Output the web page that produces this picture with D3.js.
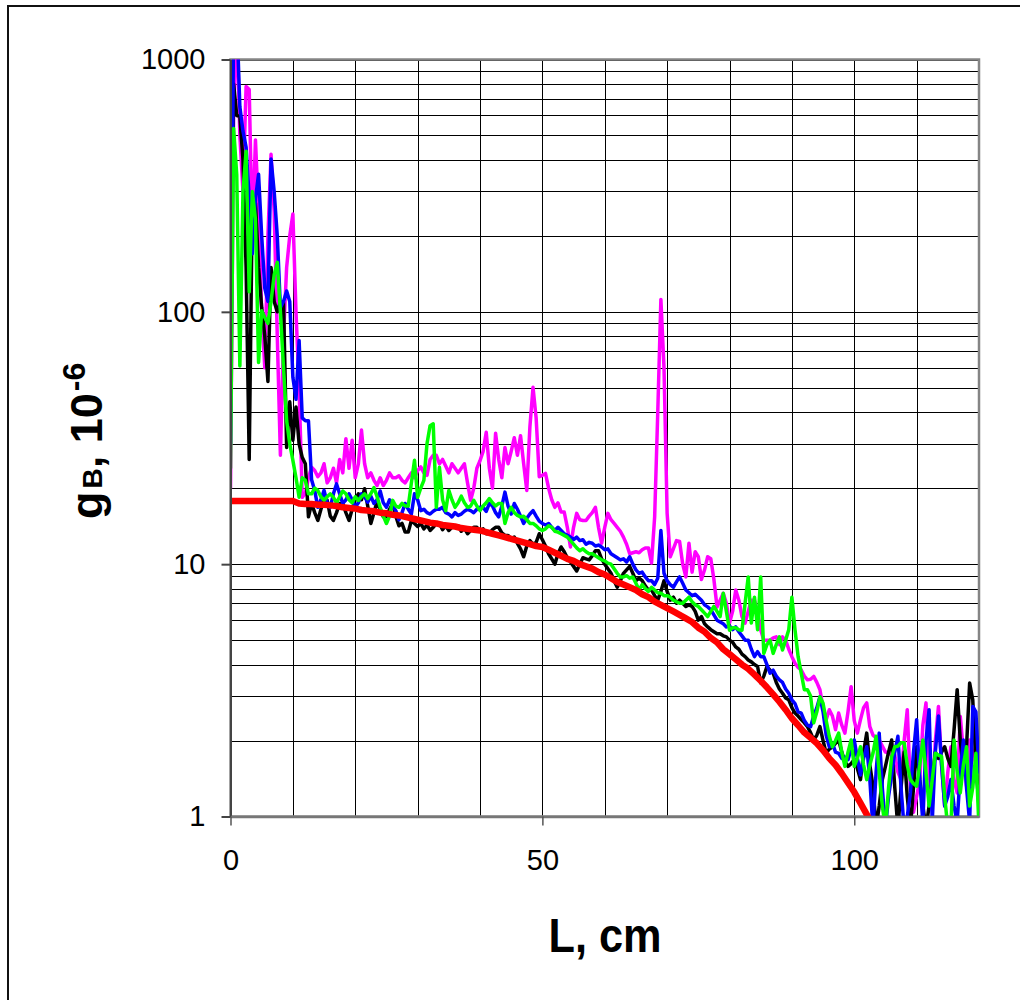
<!DOCTYPE html>
<html><head><meta charset="utf-8">
<script src="https://cdn.jsdelivr.net/npm/d3@7"></script>
<style>body{margin:0;background:#fff}svg{display:block}</style>
</head><body><svg id="c" width="1020" height="1000"></svg>
<script>
// x positions (cm), sampled every 0.5 cm
const L = d3.range(0, 241).map(i => i * 0.5);

const black = [
100,800,600,595,400,150,26,280,270,150,
104,80,53,150,110,100,109,109,29,44,
31,42,30,26.5,25,15.4,17.4,16,14.9,16.5,
17.9,17.9,15.5,14.9,16,17.4,17.4,16,14.9,16.5,
18,19,18,19.9,17,14.5,16,17.7,16.5,15.4,
15.4,16.5,17.4,15.5,14.2,14.5,13.4,13.4,14.9,14.5,
14.1,14.5,13.8,14.3,13.6,14.0,14.5,14.5,13.7,14.2,
13.6,14.0,14.2,14.2,13.5,13.9,13.2,13.6,14.0,14.0,
13.5,13.8,13.2,13.2,13.7,14.0,14.0,13.3,13.0,13.0,
12.6,12.8,12.1,11.5,10.7,11.8,12.4,12.0,12.2,13.2,
12.5,11.8,11.0,10.5,10.0,11.0,11.7,11.2,10.6,10.2,
9.8,9.4,10.0,10.6,10.5,10.4,10.8,11.3,11.3,10.5,
10.0,9.6,9.2,8.6,8.1,8.6,9.2,9.5,9.8,9.2,
8.6,8.8,8.6,8.2,7.9,7.9,7.5,7.2,7.8,8.6,
7.8,7.2,7.4,7.0,7.2,7.0,6.8,6.9,6.8,6.5,
6.0,6.2,5.8,5.64,5.5,5.4,5.3,5.3,5.2,5.15,
5.0,4.9,4.7,4.6,4.4,4.3,4.17,4.1,4.0,3.93,
3.38,3.6,3.93,3.8,3.7,3.4,3.2,3.08,2.95,2.9,
2.7,2.57,2.5,2.42,2.35,2.27,2.15,2.01,2.1,2.27,
2.0,1.78,1.85,1.89,1.95,2.01,1.8,1.65,1.58,1.62,
1.68,1.55,1.4,1.8,2.14,1.6,1.32,0.9,1.1,1.4,
1.58,1.8,2.01,1.3,0.9,1.3,1.8,1.2,0.9,1.3,
1.89,1.4,1.1,0.9,1.1,1.4,1.8,1.7,1.8,1.89,
1.7,1.58,2.2,3.18,2.0,1.53,1.89,3.38,2.9,1.6,
1.1];

const blue = [
30,1500,1500,650,520,450,283,170,280,351,
200,124,110,403,300,200,104,110,121,110,
55,45,77,38,37,37,21.6,19.6,16.8,18,
19.6,17.5,16.8,19,20.8,19,17.4,18,19,18,
16.8,17.5,19,18.5,17.6,18.6,17.4,18,19.5,17.5,
16.8,18,17,16.3,15,16,17.4,16.5,15.8,19,
18,16.3,16.5,16,15.8,16.2,16.5,16.5,16.8,16,
15.8,15.4,16,15.6,15.8,16.2,16.5,16.3,16,16.5,
16.8,16.8,16.2,17.4,17,16,15.4,17,19.3,17,
15.8,17.4,16.5,15.5,14.5,15.2,15.8,16.3,15.5,14.8,
14.5,14.3,14.5,14.0,13.6,14.0,13.6,13.2,13.0,12.8,
12.5,12.8,12.4,12.5,12.0,12.2,12.1,11.8,11.9,11.7,
11.4,11.5,11.0,10.8,10.6,10.4,10.5,10.2,10.7,10.0,
9.5,9.2,9.3,8.9,8.6,8.6,8.3,8.8,13.6,9.2,
8.6,8.3,8.1,8.5,8.9,8.4,7.9,7.7,7.5,7.6,
7.4,7.2,6.9,6.77,6.6,6.3,6.0,5.9,5.8,5.64,
5.7,5.5,5.64,5.4,5.2,5.0,5.0,4.6,4.3,4.5,
4.3,4.3,4.0,3.7,3.8,3.6,3.48,3.4,3.2,3.08,
2.9,2.8,2.6,2.57,2.4,2.3,2.27,2.5,2.7,2.98,
2.6,2.1,1.89,1.95,1.8,1.78,1.7,1.72,1.68,1.85,
2.01,1.7,1.46,1.7,1.89,1.4,0.9,1.5,2.14,1.3,
0.9,1.2,1.46,1.8,2.08,1.3,0.9,1.0,1.24,1.8,
2.42,1.4,0.95,2.0,2.65,0.95,1.8,2.5,1.6,1.1,
1.2,1.4,1.1,0.95,1.5,2.01,1.3,0.95,2.73,2.6,
1.5];

const magenta = [
20,600,1500,500,300,782,760,200,480,250,
100,60,200,421,250,80,27,80,150,200,
244,100,50,18.4,19.1,22,24.2,23.5,22.2,23,
25,21,22,24,21,26,23,31.4,24,31,
22,25,34,25,22,23,21.5,20.5,22,20.5,
21.5,23,22,22,22.4,21.5,21,22,23,22,
23.5,24.3,23,22.5,26,27,27,25,26,24.5,
23,25,24,23,24,25,21,17.9,20,24,
25.7,28,33.3,24,20,33,26,22,29,25,
28,31.7,27,32.3,25,19.6,35,50.2,38,22.2,
22.5,22.9,20,18,16.8,17.5,16.1,16.1,14,11.7,
14,15.9,15,14.9,14.9,15.5,16,16.8,14,12.1,
14,15.9,15,14.5,14,13.5,12.8,12,11,11.1,
11.2,11.1,11.4,11.6,11.6,10.1,15.4,40,112,60,
15.9,10.7,11.5,12.4,12.3,10,8.9,12.1,9.3,11.2,
10.7,8.7,9.5,10.7,10.5,8.7,6.77,7.2,7.67,7.0,
5.84,6.5,7.9,7.2,6.2,5.84,6.5,7.2,7.2,6.5,
5.5,5.0,5.0,5.0,5.1,5.15,4.8,5.15,5.0,4.6,
4.3,4.05,3.9,3.81,3.6,3.48,3.5,3.59,3.4,3.18,
2.7,2.42,2.65,2.5,2.21,2.57,2.3,2.14,2.6,3.27,
2.4,2.14,2.42,2.7,2.82,2.27,2.1,2.05,2.01,1.9,
1.8,1.79,1.75,1.75,1.5,1.4,2.0,2.65,1.3,1.04,
1.2,1.4,2.3,2.82,1.5,1.1,2.0,2.73,1.6,1.1,
1.5,1.89,1.4,1.24,2.49,1.8,1.32,2.01,1.8,1.6,
1.58];

const green = [
24,533,350,61,300,433,120,300,233,63,
101,95,90,110,140,157,100,60,37,30,
25.8,22,18.4,22,21.5,19,19,20,19.6,18.5,
17.9,18.5,19,18.4,17.5,18.5,19.5,19,18,17.5,
18.5,17.9,18.5,19,18.2,19,20.1,18.5,16.8,15.5,
14.5,15.5,17.9,17,16.8,17.4,17,17,21,25.8,
18.4,20,21.5,30,35.4,36,16.8,24.2,18,16.3,
19.6,18,16.8,17.5,18.6,17.5,16.8,17,17.9,17,
16.3,17,17.5,18.2,17.5,17,17.4,17.4,14.5,16,
16.8,16,15.6,15.4,15.5,15,14.5,14.5,14.2,13.8,
13.6,13.8,14.2,14.0,13.5,13.4,13.2,13.0,12.8,12.4,
12.0,11.6,11.3,11.5,11.2,11.0,11.0,10.8,10.6,10.4,
10.3,10.1,10.0,9.6,9.2,8.9,8.9,9.0,8.8,8.9,
8.4,7.9,8.3,8.0,7.8,8.1,7.9,7.7,7.67,7.5,
7.5,7.4,7.2,7.1,7.0,7.0,7.2,7.4,7.1,6.9,
6.8,6.6,6.4,6.2,6.5,6.8,6.5,6.2,7.67,6.5,
5.47,5.6,5.6,5.5,5.47,7.0,8.9,5.84,7.4,5.5,
8.9,4.43,4.8,5.0,4.43,4.8,5.15,4.57,5.0,5.5,
7.4,5.5,4.3,3.7,3.18,3.18,3.0,2.35,2.6,2.98,
2.81,2.4,2.08,1.89,2.0,2.14,1.8,1.58,1.8,2.01,
1.58,1.7,1.89,1.6,1.4,1.6,1.78,2.08,1.5,1.1,
0.9,1.3,1.73,1.89,1.9,1.96,1.96,1.6,1.4,1.35,
1.32,1.6,2.01,1.5,1.1,1.4,1.78,1.75,1.73,1.2,
0.9,0.9,2.01,1.5,1.24,1.6,1.89,1.1,1.3,1.78,
0.9];

// smooth (model) curve, every 1 cm
const redL = d3.range(0, 104);
const red = [
17.8,17.8,17.8,17.8,17.8,17.8,17.8,17.8,17.8,17.8,17.8,
17.4,17.3,17.3,17.2,17.2,17.1,17.0,16.8,16.7,16.6,
16.4,16.3,16.2,16.0,15.9,15.7,15.6,15.4,15.2,15.0,
14.8,14.6,14.5,14.3,14.2,14.1,13.9,13.8,13.7,13.6,
13.4,13.2,13.0,12.8,12.6,12.4,12.2,12.0,11.8,11.7,
11.4,11.1,10.8,10.5,10.3,10.0,9.8,9.6,9.3,9.1,
8.8,8.5,8.3,8.1,7.9,7.6,7.4,7.1,6.9,6.7,
6.5,6.3,6.1,5.9,5.6,5.4,5.1,4.9,4.6,4.4,
4.2,4.0,3.85,3.65,3.45,3.25,3.05,2.85,2.65,2.45,
2.3,2.15,2.05,1.95,1.83,1.7,1.6,1.48,1.36,1.25,
1.13,1.02,0.92];

const xTicks = [0, 50, 100];
const yTicks = [1, 10, 100, 1000];

const W = 1020, H = 1000;
const P = {left: 230.5, top: 59.5, right: 979, bottom: 816.5};
const FONT = '"Liberation Sans", Arial, sans-serif';

const x = d3.scaleLinear().domain([0, 120]).range([P.left, P.right]);
const y = d3.scaleLog().domain([1, 1000]).range([P.bottom, P.top]);

const svg = d3.select('#c');
svg.append('rect').attr('width', W).attr('height', H).attr('fill', '#fff');

// outer chart frame
svg.append('rect').attr('x', 8).attr('y', 6).attr('width', 1100).attr('height', 1100)
  .attr('fill', 'none').attr('stroke', '#111').attr('stroke-width', 2);

// gridlines
const grid = svg.append('g').attr('shape-rendering', 'crispEdges');
grid.selectAll('line.h').data(y.ticks()).join('line').attr('class', 'h')
  .attr('x1', P.left).attr('x2', P.right)
  .attr('y1', d => Math.round(y(d)) + 0.5).attr('y2', d => Math.round(y(d)) + 0.5)
  .attr('stroke', '#000').attr('stroke-width', 1);
grid.selectAll('line.v').data(d3.range(10, 120, 10)).join('line').attr('class', 'v')
  .attr('y1', P.top).attr('y2', P.bottom)
  .attr('x1', d => Math.round(x(d)) + 0.5).attr('x2', d => Math.round(x(d)) + 0.5)
  .attr('stroke', '#000').attr('stroke-width', 1);

// plot-area frame (gray)
svg.append('rect').attr('x', P.left).attr('y', P.top)
  .attr('width', P.right - P.left).attr('height', P.bottom - P.top)
  .attr('fill', 'none').attr('stroke', '#858585').attr('stroke-width', 2.5);

// clip for series
svg.append('clipPath').attr('id', 'clip').append('rect')
  .attr('x', P.left).attr('y', P.top).attr('width', P.right - P.left).attr('height', P.bottom - P.top);

const line = d3.line().x(d => x(d[0])).y(d => y(d[1]));
const series = [
  {v: magenta, c: '#FF00FF', w: 3.5, xs: L},
  {v: black, c: '#000000', w: 3.5, xs: L},
  {v: blue, c: '#0000FF', w: 3.5, xs: L},
  {v: green, c: '#00FF00', w: 3.5, xs: L},
  {v: red, c: '#FF0000', w: 6.5, xs: redL}
];
const gS = svg.append('g').attr('clip-path', 'url(#clip)');
series.forEach(s => {
  gS.append('path').datum(s.xs.map((xx, i) => [xx, s.v[i]]))
    .attr('d', line).attr('fill', 'none').attr('stroke', s.c)
    .attr('stroke-width', s.w).attr('stroke-linejoin', 'round').attr('stroke-linecap', 'round');
});

// axes
const yAxis = d3.axisLeft(y).tickValues(yTicks).tickFormat(d3.format('d'))
  .tickSize(9).tickSizeOuter(0).tickPadding(16);
const gy = svg.append('g').attr('transform', `translate(${P.left},0)`).call(yAxis);
gy.select('.domain').attr('stroke', '#444').attr('stroke-width', 2);
gy.selectAll('.tick line').attr('stroke', '#444').attr('stroke-width', 2);
gy.selectAll('.tick text').attr('font-family', FONT).attr('font-size', 29).attr('fill', '#000');

const xAxis = d3.axisBottom(x).tickValues(xTicks).tickFormat(d3.format('d'))
  .tickSize(9).tickSizeOuter(0).tickPadding(24);
const gx = svg.append('g').attr('transform', `translate(0,${P.bottom})`).call(xAxis);
gx.select('.domain').attr('stroke', '#777').attr('stroke-width', 2.5);
gx.selectAll('.tick line').attr('stroke', '#555').attr('stroke-width', 1.5);
gx.selectAll('.tick text').attr('font-family', FONT).attr('font-size', 29).attr('fill', '#000');

// x title
svg.append('text').attr('x', 605).attr('y', 952).attr('text-anchor', 'middle')
  .attr('font-family', FONT).attr('font-weight', 'bold').attr('font-size', 48)
  .attr('textLength', 113).attr('lengthAdjust', 'spacingAndGlyphs')
  .text('L, cm');

// y title
const yt = svg.append('text').attr('transform', 'translate(102,519) rotate(-90)')
  .attr('font-family', FONT).attr('font-weight', 'bold').attr('fill', '#000');
yt.append('tspan').attr('font-size', 45).text('g');
yt.append('tspan').attr('font-size', 28).attr('dx', 3).text('B');
yt.append('tspan').attr('font-size', 45).text(', 10');
yt.append('tspan').attr('font-size', 32).attr('dx', 2).attr('dy', -17).text('-6');
</script>
</body></html>
